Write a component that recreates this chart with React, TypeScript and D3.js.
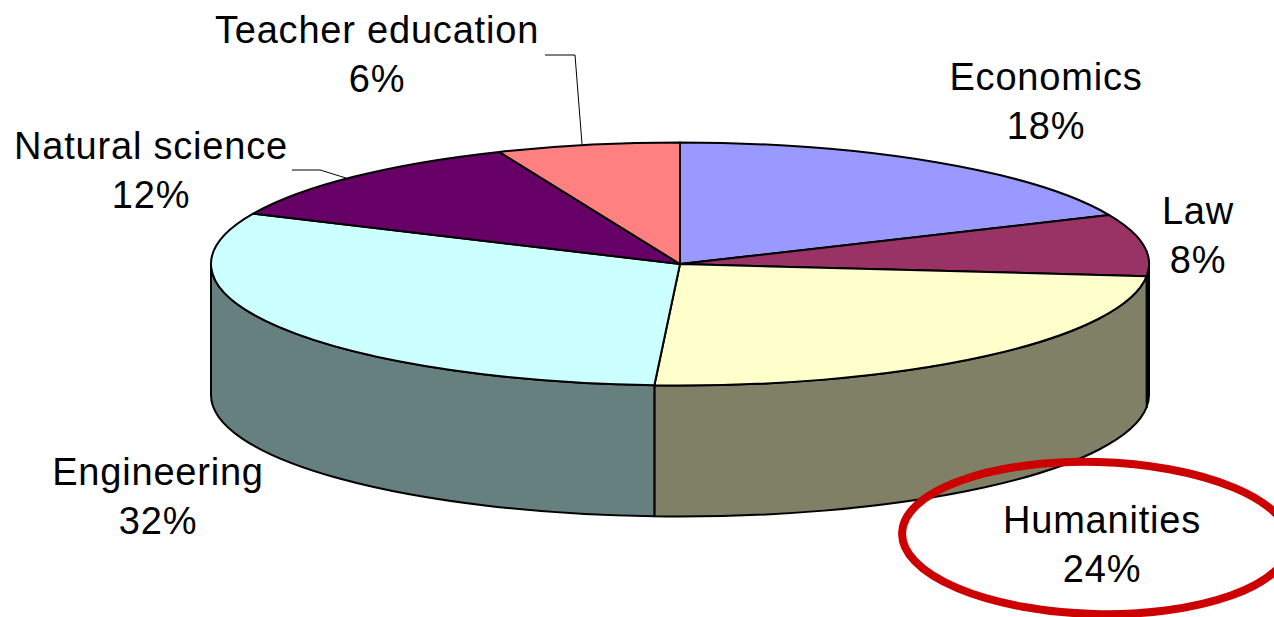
import React from 'react';
import * as d3 from 'd3';

// (slices drawn a bit off the printed labels in the original)
const fields = ['Economics', 'Law', 'Humanities', 'Engineering', 'Natural science', 'Teacher education'];
const shares = [18.4, 8.2, 24.27, 30.93, 11.9, 6.3];
const percentLabels = ['18%', '8%', '24%', '32%', '12%', '6%'];
const colors = ['#9999FF', '#993366', '#FFFFCC', '#CCFFFF', '#660066', '#FF8080'];

const width = 1274;
const height = 617;
const cx = 680;
const cy = 264;
const rx = 469;
const ry = 121.5;
const depth = 131;

// label centres, first line baseline
const labelPos = [
  [1046, 90],
  [1198, 224],
  [1102, 533],
  [158, 485],
  [151, 159],
  [377, 43],
];
const leaders = [
  [[545, 55], [575, 55], [582, 144]],
  [[292, 170], [320, 170], [346, 178]],
];

const pt = (a: number, dy = 0) => [cx + rx * Math.sin(a), cy - ry * Math.cos(a) + dy];

const wallPath = (a0: number, a1: number) => {
  const p0 = pt(a0);
  const p1 = pt(a1);
  return `M${p0[0]},${p0[1]}A${rx},${ry} 0 0 1 ${p1[0]},${p1[1]}` +
    `L${p1[0]},${p1[1] + depth}A${rx},${ry} 0 0 0 ${p0[0]},${p0[1] + depth}Z`;
};

export default function App() {
  const slices = d3.pie<number>().sort(null)(shares);
  const arc = d3.arc<d3.PieArcDatum<number>>().innerRadius(0).outerRadius(rx);
  const line = d3.line();
  const font = '"Liberation Sans", Arial, sans-serif';

  return (
    <svg width={width} height={height} style={{ position: 'absolute', left: 0, top: 0, display: 'block' }}>
      <rect width={width} height={height} fill="#fff" />

      {/* side walls, only the front half shows */}
      {slices.map((s, i) => {
        const a0 = Math.max(s.startAngle, Math.PI / 2);
        const a1 = Math.min(s.endAngle, (3 * Math.PI) / 2);
        if (a1 <= a0) return null;
        const c = d3.rgb(colors[i]);
        const fill = d3.rgb(c.r * 0.5, c.g * 0.5, c.b * 0.5).formatHex();
        return <path key={i} d={wallPath(a0, a1)} fill={fill} stroke="#000" strokeWidth={2} strokeLinejoin="round" />;
      })}

      {/* top face */}
      <g transform={`translate(${cx},${cy}) scale(1,${ry / rx})`}>
        {slices.map((s, i) => (
          <path
            key={i}
            d={arc(s) as string}
            fill={colors[i]}
            stroke="#000"
            strokeWidth={2}
            strokeLinejoin="round"
            vectorEffect="non-scaling-stroke"
          />
        ))}
      </g>

      {leaders.map((l, i) => (
        <path key={i} d={line(l as [number, number][]) as string} fill="none" stroke="#000" strokeWidth={1} />
      ))}

      {fields.map((f, i) => (
        <text key={f} x={labelPos[i][0]} y={labelPos[i][1]} textAnchor="middle" fontFamily={font} fontSize={38} letterSpacing={0.8} fill="#000">
          <tspan x={labelPos[i][0]}>{f}</tspan>
          <tspan x={labelPos[i][0]} dy={49}>{percentLabels[i]}</tspan>
        </text>
      ))}

      {/* red highlight round Humanities */}
      <ellipse cx={1096} cy={538} rx={194} ry={76} transform="rotate(1.5 1096 538)" fill="none" stroke="#CC0000" strokeWidth={8} />
    </svg>
  );
}
